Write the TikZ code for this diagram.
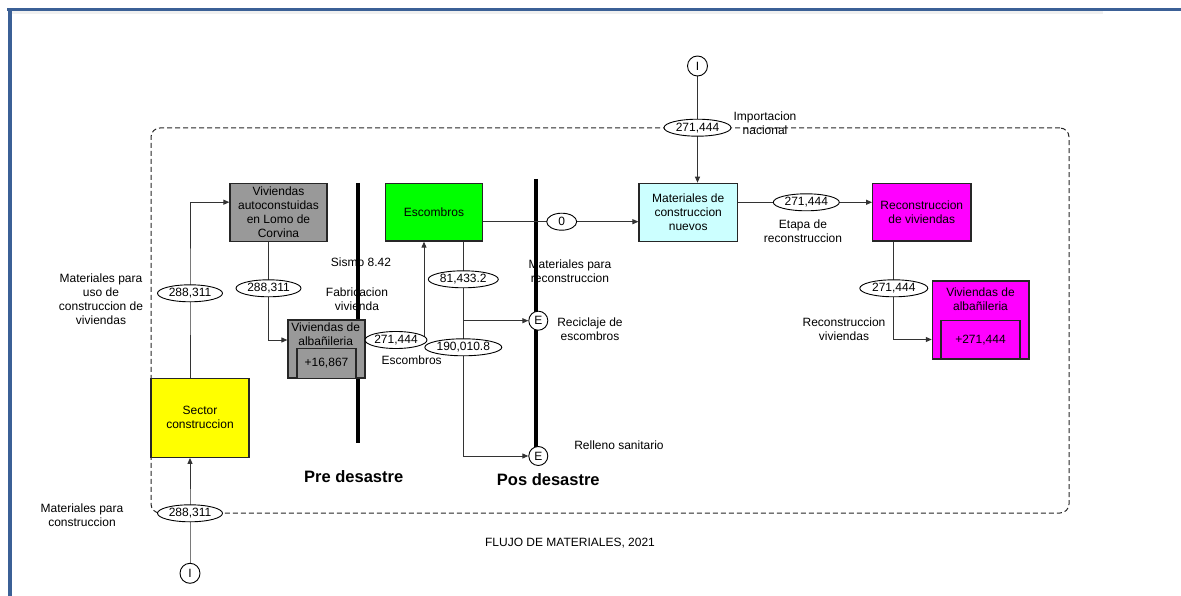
\documentclass[tikz,border=0pt]{standalone}
\usepackage{fontspec}
\setmainfont{Liberation Sans}
\usetikzlibrary{arrows.meta,shapes.geometric,calc}
\definecolor{frameblue}{RGB}{59,96,150}
\definecolor{grayfill}{RGB}{153,153,153}
\definecolor{yel}{RGB}{255,255,0}
\definecolor{grn}{RGB}{0,255,0}
\definecolor{cyn}{RGB}{204,255,255}
\definecolor{mag}{RGB}{255,0,255}
\newcommand\smallfnt{\fontsize{12}{14}\selectfont}
\pgfdeclarelayer{bg}
\pgfsetlayers{bg,main}
\tikzset{
  box/.style={draw=black!85, line width=1.2pt, inner sep=0pt, align=center, font=\smallfnt, text=black},
  valel/.style={ellipse, draw=black, line width=0.9pt, fill=white, inner sep=0pt, minimum width=65pt, minimum height=17pt, font=\smallfnt, text=black},
  endc/.style={circle, draw=black, line width=0.9pt, fill=white, inner sep=0pt, minimum size=19pt, font=\smallfnt, text=black},
  conn/.style={draw=black!80, line width=1pt},
  arr/.style={conn, -{Triangle[length=6pt,width=5pt]}},
  lbl/.style={align=center, font=\smallfnt, inner sep=0pt, text=black},
  phase/.style={font=\bfseries\fontsize{16.5}{18}\selectfont, inner sep=0pt, text=black},
  wall/.style={line width=4pt, black},
  frm/.style={draw=black!85, line width=1pt, dash pattern=on 5pt off 3pt, rounded corners=9pt, inner sep=0pt}
}
\begin{document}
\begin{tikzpicture}[x=1pt,y=-1pt]
\useasboundingbox (0,0) rectangle (1181,596);
% outer blue frame
\fill[black!6] (12,11.5) rectangle (1103,14);
\draw[frameblue, line width=3pt] (7,10) -- (1181,10);
\draw[frameblue, line width=4pt] (9.5,8.5) -- (9.5,596);
% dashed system boundary
\node[frm, minimum width=918pt, minimum height=385pt] (frame) at (610,320.5) {};
% boxes
\node[box, fill=grayfill, minimum width=97pt, minimum height=58pt] (auto) at (278.5,212.2) {Viviendas\\autoconstuidas\\en Lomo de\\Corvina};
\node[box, fill=grayfill, minimum width=77pt, minimum height=58pt] (albG) at (326.5,349) {};
\node[lbl] (tAlbG) at (325.7,333.8) {Viviendas de\\albañileria};
\node[box, fill=grayfill, minimum width=59pt, minimum height=30pt] (albGin) at (326.5,363.2) {+16,867};
\node[box, fill=yel, minimum width=98pt, minimum height=79pt] (sector) at (200,417.8) {Sector\\construccion};
\node[box, fill=grn, minimum width=97.7pt, minimum height=57.7pt] (escombros) at (434,212.2) {Escombros};
\node[box, fill=cyn, minimum width=98.3pt, minimum height=58pt] (nuevos) at (688.2,212.3) {Materiales de\\construccion\\nuevos};
\node[box, fill=mag, minimum width=98.3pt, minimum height=57.7pt] (recon) at (921.8,212.2) {Reconstruccion\\de viviendas};
\node[box, fill=mag, minimum width=96.7pt, minimum height=78pt] (albM) at (980.7,320) {};
\node[lbl] (tAlbM) at (980.5,299.5) {Viviendas de\\albañileria};
\node[box, fill=mag, minimum width=79pt, minimum height=38.3pt] (albMin) at (980.5,339.9) {+271,444};
% value ellipses
\node[valel] (e288a) at (190,293.3) {288,311};
\node[valel] (e288b) at (268.5,288.3) {288,311};
\node[valel] (e288c) at (190,513.3) {288,311};
\node[valel, minimum width=62pt] (e271a) at (396,340) {271,444};
\node[valel, minimum width=70pt] (e81) at (463.3,279.3) {81,433.2};
\node[valel, minimum width=77pt] (e190) at (463.3,347.3) {190,010.8};
\node[valel, minimum width=30pt] (e0) at (561.7,221.7) {0};
\node[valel, minimum width=67pt] (e271imp) at (697.5,127.7) {271,444};
\node[valel, minimum width=66pt] (e271et) at (806.3,202.3) {271,444};
\node[valel, minimum width=68pt] (e271rv) at (893.8,288.3) {271,444};
% sources and sinks
\node[endc, minimum size=20pt] (Itop) at (697.5,66) {I};
\node[endc, minimum size=20pt] (Ibot) at (190,573.3) {I};
\node[endc] (Erec) at (538.3,320.7) {E};
\node[endc] (Erel) at (538.3,456) {E};
% labels
\node[lbl] (tMatUso) at (101,299.5) {Materiales para\\uso de\\construccion de\\viviendas};
\node[lbl] (tMatCons) at (82,515) {Materiales para\\construccion};
\node[lbl] (tSismo) at (361,262.3) {Sismo 8.42};
\node[lbl] (tFab) at (357,299.3) {Fabricacion\\vivienda};
\node[lbl] (tEsc) at (411.7,360.7) {Escombros};
\node[lbl] (tMatRec) at (570,271) {Materiales para\\reconstruccion};
\node[lbl] (tRecic) at (590,329) {Reciclaje de\\escombros};
\node[lbl] (tRell) at (619,445.7) {Relleno sanitario};
\node[lbl] (tImp) at (765,123.3) {Importacion\\nacional};
\node[lbl] (tEtapa) at (803,231) {Etapa de\\reconstruccion};
\node[lbl] (tRecViv) at (844,329) {Reconstruccion\\viviendas};
\node[lbl] (tTitle) at (570,542.7) {FLUJO DE MATERIALES, 2021};
\node[phase] (tPre) at (353.7,476.7) {Pre desastre};
\node[phase] (tPos) at (548.3,480) {Pos desastre};
% background: walls and connectors
\begin{pgfonlayer}{bg}
\draw[wall] (358,183) -- (358,443);
\draw[wall] (536,179) -- (536,450);
\draw[arr] (Ibot) -- (e288c.center) -- (e288c.center |- sector.south);
\draw[arr] (e288a.center |- sector.north) -- (e288a.center) |- ([yshift=10pt]auto.west);
\draw[arr] (e288b.center |- auto.south) -- (e288b.center) |- ([yshift=9pt]albG.west);
\draw[arr] (albG.east |- e271a.center) -- (e271a.center) -| ([xshift=-10pt]escombros.south);
\draw[arr] (escombros.south -| e81.center) -- (e81.center) -- (e190.center) |- (Erel);
\draw[arr] (e81.center |- Erec) -- (Erec);
\draw[arr] (escombros.east |- e0.center) -- (e0.center) -- (nuevos.west |- e0.center);
\draw[arr] (Itop) -- (e271imp.center) -- (nuevos.north -| e271imp.center);
\draw[arr] (nuevos.east |- e271et.center) -- (e271et.center) -- (recon.west |- e271et.center);
\draw[arr] (recon.south -| e271rv.center) -- (e271rv.center) |- ([yshift=-19.5pt]albM.west);
\end{pgfonlayer}
\end{tikzpicture}
\end{document}
